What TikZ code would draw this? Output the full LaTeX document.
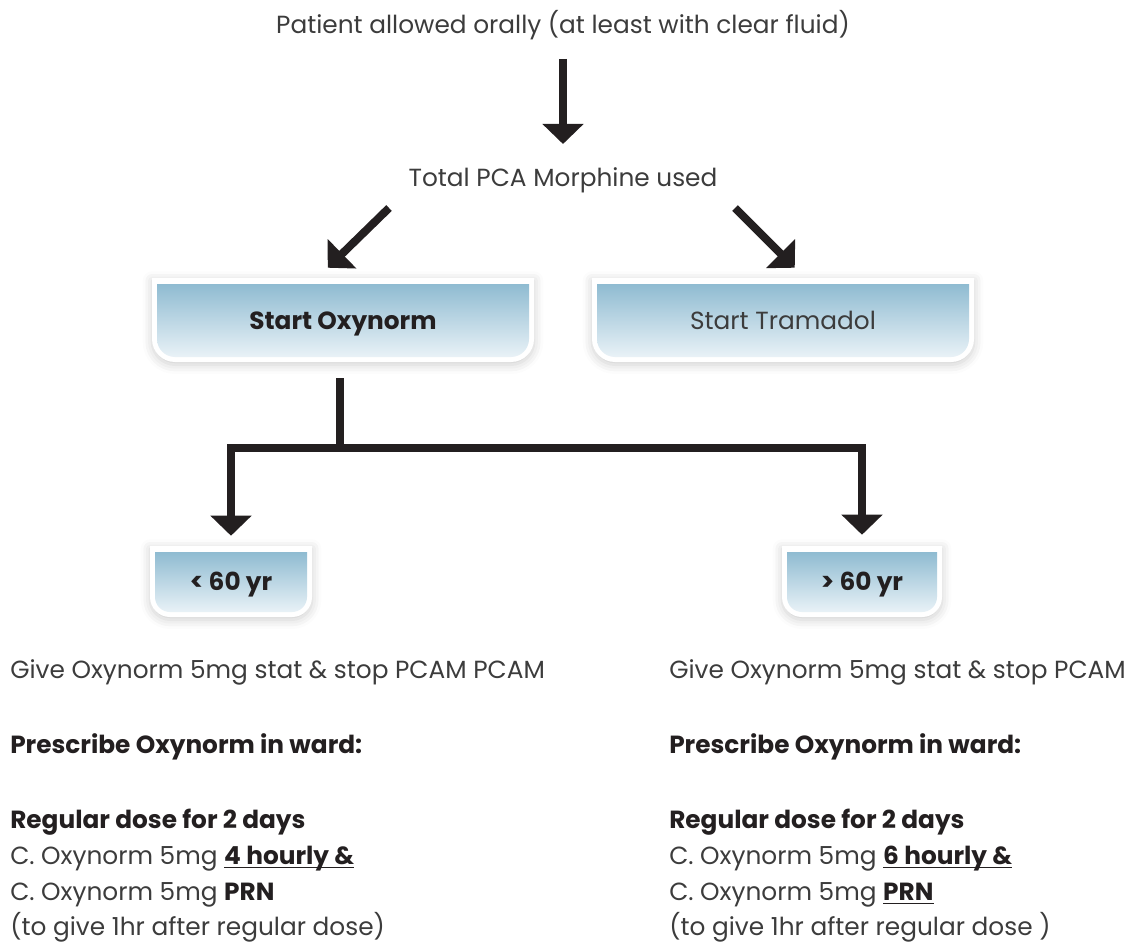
\documentclass[tikz,border=0pt]{standalone}
\usepackage{fontspec}
\setmainfont{Poppins}
\usetikzlibrary{arrows.meta,shadows.blur,calc}
\definecolor{txt}{HTML}{3C3C3C}
\definecolor{ink}{HTML}{231F20}
\definecolor{btop}{HTML}{8FBBD1}
\definecolor{bbot}{HTML}{E9F2F7}
\newcommand\myul[1]{\setbox0\hbox{#1}\rlap{\rule[-3pt]{\wd0}{1.1pt}}\box0}
\newcommand\bt[1]{{\bfseries\color{ink}#1}}
\newcommand\gbox[7]{%
  \path[fill=white, blur shadow={shadow xshift=0pt,shadow yshift=-2pt,shadow blur radius=7pt,shadow opacity=20}]
    (#2-5,#3-6) -- (#2-5,#5-#6) arc[start angle=180,end angle=90,radius=#6+5]
    -- (#4-#6,#5+5) arc[start angle=90,end angle=0,radius=#6+5] -- (#4+5,#3-6) -- cycle;
  \shade[top color=btop,bottom color=bbot] (#2,#3) -- (#2,#5-#6) arc[start angle=180,end angle=90,radius=#6]
    -- (#4-#6,#5) arc[start angle=90,end angle=0,radius=#6] -- (#4,#3) -- cycle;
  \node[inner sep=0pt, text height=13pt, text depth=0pt, minimum width={(#4-#2)*0.75pt}, minimum height={(#5-#3)*0.75pt}, text=txt] (#1) at ({(#2+#4)/2},{(#3+#5)/2}) {#7};
}
\begin{document}
\begin{tikzpicture}[x=0.75pt,y=-0.75pt,
  every node/.style={font=\fontsize{18.6}{23}\selectfont, text=txt},
  arr/.style={draw=ink, line width=6pt, -{Triangle[width=30pt,length=15pt]}},
  lt/.style={anchor=base west, inner sep=0pt}]
\useasboundingbox (0,0) rectangle (1139,945);

\node[anchor=base, inner sep=0pt] (title) at (563,34) {Patient allowed orally (at least with clear fluid)};
\node[anchor=base, inner sep=0pt] (total) at (563,187) {Total PCA Morphine used};

\gbox{ox}{157}{284}{529}{357}{18}{\bt{Start Oxynorm}}
\gbox{tr}{597}{284}{969}{357}{18}{Start Tramadol}
\gbox{young}{155}{552}{307}{612}{15}{\bt{< 60 yr}}
\gbox{old}{787}{552}{937}{612}{15}{\bt{> 60 yr}}

\draw[arr] ($(title.base)+(0,25)$) -- ($(total.base)+(0,-43)$);
\draw[arr] ($(total.base)+(-174,21)$) -- ($(ox.north west)+(171,-16)$);
\draw[arr] ($(total.base)+(172,21)$) -- ($(tr.north west)+(198,-16)$);
\draw[arr] ($(ox.south)+(-3,21)$) |- ($(young.north)+(0,-104)$) -- ($(young.north)+(0,-16)$);
\draw[arr] ($(ox.south)+(-3,91)$) -| ($(old.north)+(0,-17)$);

\node[lt] (l1) at (10,678) {Give Oxynorm 5mg stat \& stop PCAM PCAM};
\node[lt] (l2) at (10,753) {\bt{Prescribe Oxynorm in ward:}};
\node[lt] (l3) at (10,828) {\bt{Regular dose for 2 days}};
\node[lt] (l4) at (10,864) {C. Oxynorm 5mg \bt{\myul{4 hourly \&}}};
\node[lt] (l5) at (10,900) {C. Oxynorm 5mg \bt{PRN}};
\node[lt] (l6) at (10,935) {(to give 1hr after regular dose)};

\node[lt] (r1) at (669,678) {Give Oxynorm 5mg stat \& stop PCAM};
\node[lt] (r2) at (669,753) {\bt{Prescribe Oxynorm in ward:}};
\node[lt] (r3) at (669,828) {\bt{Regular dose for 2 days}};
\node[lt] (r4) at (669,864) {C. Oxynorm 5mg \bt{\myul{6 hourly \&}}};
\node[lt] (r5) at (669,900) {C. Oxynorm 5mg \bt{\myul{PRN}}};
\node[lt] (r6) at (669,935) {(to give 1hr after regular dose )};
\end{tikzpicture}
\end{document}
